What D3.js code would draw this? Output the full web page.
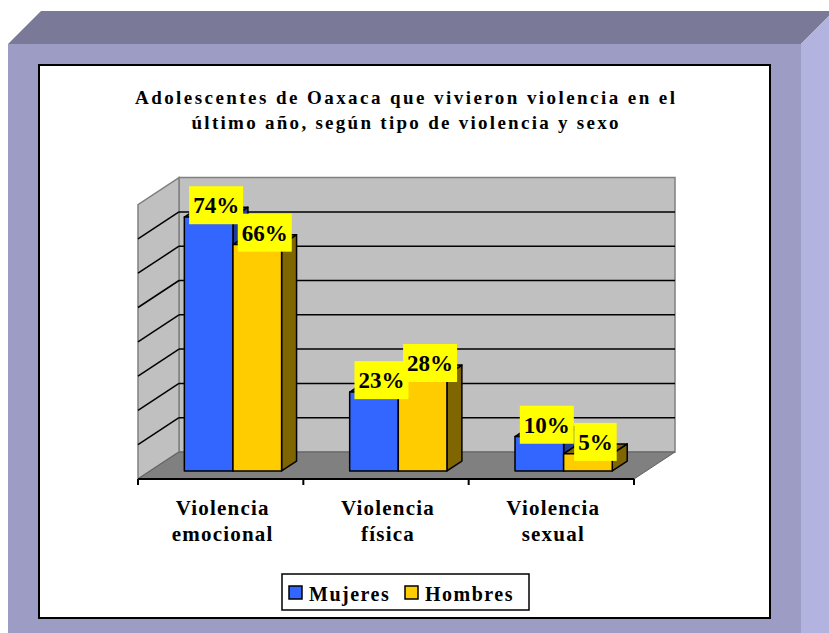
<!DOCTYPE html>
<html>
<head>
<meta charset="utf-8">
<script src="https://cdn.jsdelivr.net/npm/d3@7"></script>
<style>
  body { margin: 0; background: #fff; }
  text { font-family: "Liberation Serif", "Times New Roman", serif; font-weight: bold; fill: #000; }
</style>
</head>
<body>
<div id="chart"></div>
<script>
// data
const categories = [["Violencia", "emocional"], ["Violencia", "física"], ["Violencia", "sexual"]];
const seriesNames = ["Mujeres", "Hombres"];
const mujeres = [74, 23, 10];
const hombres = [66, 28, 5];
const yTicks = [0, 10, 20, 30, 40, 50, 60, 70, 80];
const titleLines = ["Adolescentes de Oaxaca que vivieron violencia en el", "último año, según tipo de violencia y sexo"];

const W = 829, H = 633;
const colors = {
    Mujeres: { front: "#3366ff", dark: "#1f3d99" },
    Hombres: { front: "#ffcc00", dark: "#7f6600" }
};

const svg = d3.select("#chart").append("svg")
    .attr("width", W)
    .attr("height", H);

// frame (bevelled border)
svg.append("polygon").attr("points", "8,44 41,11 829,11 829,16 801,44").attr("fill", "#7a7a98");
svg.append("polygon").attr("points", "801,44 829,16 829,633 801,633").attr("fill", "#b3b3e0");
svg.append("rect").attr("x", 8).attr("y", 44).attr("width", 793).attr("height", 589).attr("fill", "#9c9cc4");
svg.append("rect").attr("x", 39).attr("y", 65).attr("width", 731).attr("height", 553)
    .attr("fill", "#fff").attr("stroke", "#000").attr("stroke-width", 2);

// title
svg.selectAll(".title").data(titleLines).enter().append("text")
    .attr("class", "title")
    .attr("x", 405)
    .attr("y", (d, i) => 104 + i * 25)
    .attr("text-anchor", "middle")
    .attr("font-size", 19)
    .attr("textLength", (d, i) => i === 0 ? 540 : 427)
    .attr("lengthAdjust", "spacing")
    .text(d => d);

// 3D geometry
const DX = 41, DY = 27;
const x = d3.scaleBand().domain(d3.range(categories.length)).range([138, 634]).paddingInner(0).paddingOuter(0);
const xs = d3.scaleBand().domain(seriesNames).range([0, x.bandwidth()]).paddingInner(0).paddingOuter(0.7);
const y = d3.scaleLinear().domain([0, 80]).range([479, 479 - 274.4]);
const proj = (px, v, d) => [px + DX * d, y(v) - DY * d];
const pts = arr => arr.map(p => p.join(",")).join(" ");

// walls
const g = svg.append("g");
g.append("polygon")
    .attr("points", pts([proj(138, 0, 1), proj(634, 0, 1), proj(634, 80, 1), proj(138, 80, 1)]))
    .attr("fill", "#c0c0c0").attr("stroke", "#808080").attr("stroke-width", 1.5);
g.append("polygon")
    .attr("points", pts([proj(138, 0, 0), proj(138, 0, 1), proj(138, 80, 1), proj(138, 80, 0)]))
    .attr("fill", "#c0c0c0").attr("stroke", "#808080").attr("stroke-width", 1.5);

const inner = yTicks.filter(t => t > 0 && t < 80);
g.selectAll(".gridBack").data(inner).enter().append("line")
    .attr("x1", t => proj(138, t, 1)[0]).attr("y1", t => proj(138, t, 1)[1])
    .attr("x2", t => proj(634, t, 1)[0]).attr("y2", t => proj(634, t, 1)[1])
    .attr("stroke", "#000").attr("stroke-width", 1.5);
g.selectAll(".gridSide").data(inner).enter().append("line")
    .attr("x1", t => proj(138, t, 0)[0]).attr("y1", t => proj(138, t, 0)[1])
    .attr("x2", t => proj(138, t, 1)[0]).attr("y2", t => proj(138, t, 1)[1])
    .attr("stroke", "#000").attr("stroke-width", 1.5);

// floor
g.append("polygon")
    .attr("points", pts([proj(138, 0, 0), proj(634, 0, 0), proj(634, 0, 1), proj(138, 0, 1)]))
    .attr("fill", "#808080").attr("stroke", "#606060").attr("stroke-width", 1);

// x axis
g.append("line").attr("x1", 138).attr("x2", 634).attr("y1", y(0)).attr("y2", y(0))
    .attr("stroke", "#000").attr("stroke-width", 2);
g.selectAll(".tick").data(d3.range(categories.length + 1)).enter().append("line")
    .attr("x1", i => i < categories.length ? x(i) : x(i - 1) + x.bandwidth())
    .attr("x2", i => i < categories.length ? x(i) : x(i - 1) + x.bandwidth())
    .attr("y1", y(0)).attr("y2", y(0) + 6)
    .attr("stroke", "#000").attr("stroke-width", 2);

// bars
const d0 = 0.3, d1 = 0.665;
const bars = [];
categories.forEach((c, i) => {
    seriesNames.forEach(s => {
        const v = s === "Mujeres" ? mujeres[i] : hombres[i];
        const x0 = x(i) + xs(s), x1 = x0 + xs.bandwidth();
        bars.push({ i, s, v, x0, x1 });
    });
});

const bg = svg.append("g");
bars.forEach(b => {
    const col = colors[b.s];
    const bar = bg.append("g");
    bar.append("polygon")
        .attr("points", pts([proj(b.x1, 0, d0), proj(b.x1, 0, d1), proj(b.x1, b.v, d1), proj(b.x1, b.v, d0)]))
        .attr("fill", col.dark).attr("stroke", "#000").attr("stroke-width", 1.5).attr("stroke-linejoin", "round");
    bar.append("polygon")
        .attr("points", pts([proj(b.x0, b.v, d0), proj(b.x1, b.v, d0), proj(b.x1, b.v, d1), proj(b.x0, b.v, d1)]))
        .attr("fill", col.dark).attr("stroke", "#000").attr("stroke-width", 1.5).attr("stroke-linejoin", "round");
    bar.append("polygon")
        .attr("points", pts([proj(b.x0, 0, d0), proj(b.x1, 0, d0), proj(b.x1, b.v, d0), proj(b.x0, b.v, d0)]))
        .attr("fill", col.front).attr("stroke", "#000").attr("stroke-width", 1.5).attr("stroke-linejoin", "round");
});

// value labels
const lg = svg.append("g");
bars.forEach(b => {
    const cx = (b.x0 + b.x1) / 2 + DX * (d0 + d1) / 2;
    const cy = proj(0, b.v, d1)[1] - 2;
    const lab = lg.append("g");
    const rect = lab.append("rect").attr("fill", "#ffff00");
    const t = lab.append("text")
        .attr("x", cx).attr("y", cy + 8)
        .attr("text-anchor", "middle")
        .attr("font-size", 23)
        .text(b.v + "%");
    const w = t.node().getComputedTextLength() + 8;
    rect.attr("x", cx - w / 2).attr("y", cy - 19).attr("width", w).attr("height", 38);
});

// category labels
categories.forEach((c, i) => {
    svg.append("text")
        .attr("x", x(i) + x.bandwidth() / 2 + 2)
        .attr("text-anchor", "middle")
        .attr("font-size", 21)
        .attr("letter-spacing", 1.2)
        .selectAll("tspan").data(c).enter().append("tspan")
        .attr("x", x(i) + x.bandwidth() / 2 + 2)
        .attr("y", (d, j) => 515 + j * 26)
        .text(d => d);
});

// legend
const leg = svg.append("g");
leg.append("rect").attr("x", 282).attr("y", 574).attr("width", 247).attr("height", 36)
    .attr("fill", "#fff").attr("stroke", "#000").attr("stroke-width", 1.5);
const legX = { Mujeres: 289, Hombres: 405 };
seriesNames.forEach(s => {
    leg.append("rect").attr("x", legX[s]).attr("y", 586).attr("width", 13).attr("height", 13)
        .attr("fill", colors[s].front).attr("stroke", "#000").attr("stroke-width", 1.5);
    leg.append("text").attr("x", legX[s] + 20).attr("y", 601)
        .attr("font-size", 20).attr("letter-spacing", 1.5)
        .text(s);
});
</script>
</body>
</html>
